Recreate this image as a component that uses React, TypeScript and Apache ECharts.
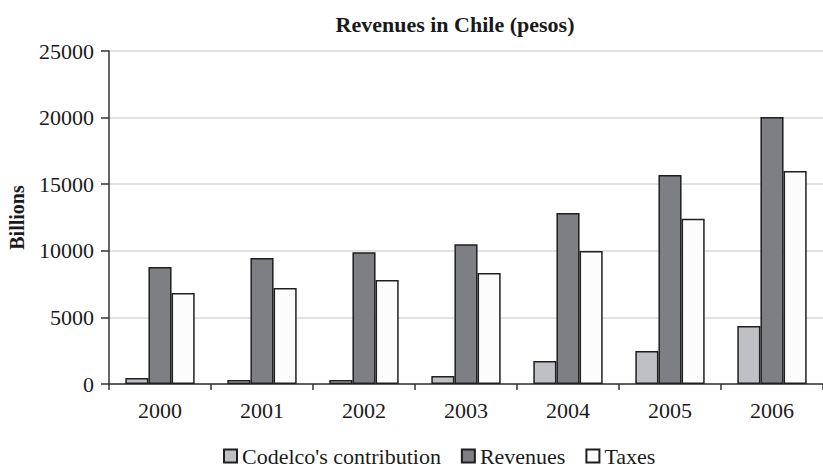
import React, { useEffect, useRef } from "react";
import * as echarts from "echarts";

const years = ["2000", "2001", "2002", "2003", "2004", "2005", "2006"];
const codelco = [450, 300, 300, 600, 1730, 2480, 4350];
const revenues = [8780, 9460, 9900, 10500, 12840, 15700, 20050];
const taxes = [6830, 7200, 7800, 8330, 9990, 12400, 15990];

const FONT = "Liberation Serif, DejaVu Serif, serif";

export default function App() {
  const ref = useRef<HTMLDivElement>(null);
  useEffect(() => {
    if (!ref.current) return;
    const chart = echarts.init(ref.current, null, { renderer: "svg" });
    const barStyle = (color: string) => ({
      color,
      borderColor: "#1f1f1f",
      borderWidth: 1.5,
    });
    chart.setOption({
      animation: false,
      backgroundColor: "#ffffff",
      textStyle: { fontFamily: FONT, color: "#1a1a1a" },
      title: {
        text: "Revenues in Chile (pesos)",
        left: 450,
        top: 8,
        textAlign: "center",
        textStyle: { fontFamily: FONT, fontSize: 22, fontWeight: "bold", color: "#1a1a1a" },
      },
      legend: {
        bottom: -1,
        left: 218,
        icon: "rect",
        itemWidth: 13,
        itemHeight: 13,
        itemGap: 20,
        textStyle: { fontFamily: FONT, fontSize: 22, color: "#1a1a1a" },
        data: ["Codelco's contribution", "Revenues", "Taxes"],
      },
      grid: {
        left: 109,
        right: 0,
        top: 51,
        bottom: 87,
        containLabel: false,
        outerBoundsMode: "none",
      },
      xAxis: {
        type: "category",
        data: years,
        axisLine: { show: true, lineStyle: { color: "#333", width: 1.5 } },
        axisTick: { show: true, length: 6, alignWithLabel: false, lineStyle: { color: "#333", width: 1.5 } },
        axisLabel: { fontFamily: FONT, fontSize: 22, color: "#1a1a1a", margin: 15 },
      },
      yAxis: {
        type: "value",
        min: 0,
        max: 25000,
        interval: 5000,
        name: "Billions",
        nameLocation: "middle",
        nameGap: 82,
        nameTextStyle: { fontFamily: FONT, fontSize: 20, fontWeight: "bold", color: "#1a1a1a", lineHeight: 20 },
        axisLine: { show: true, lineStyle: { color: "#333", width: 1.5 } },
        axisTick: { show: true, length: 8, lineStyle: { color: "#333", width: 1.5 } },
        axisLabel: {
          fontFamily: FONT,
          fontSize: 22,
          color: "#1a1a1a",
          margin: 15,
          formatter: (v: number) => String(v),
        },
        splitLine: { show: true, lineStyle: { color: "#d9d9d9", width: 1.5 } },
      },
      series: [
        {
          name: "Codelco's contribution",
          type: "bar",
          data: codelco,
          barGap: "0%",
          barCategoryGap: "32%",
          itemStyle: barStyle("#bfc0c4"),
        },
        {
          name: "Revenues",
          type: "bar",
          data: revenues,
          itemStyle: barStyle("#7e7f83"),
        },
        {
          name: "Taxes",
          type: "bar",
          data: taxes,
          itemStyle: barStyle("#fcfcfc"),
        },
      ],
    });
    return () => chart.dispose();
  }, []);
  return <div ref={ref} style={{ width: 823, height: 471, position: "absolute", left: 0, top: 0 }} />;
}
